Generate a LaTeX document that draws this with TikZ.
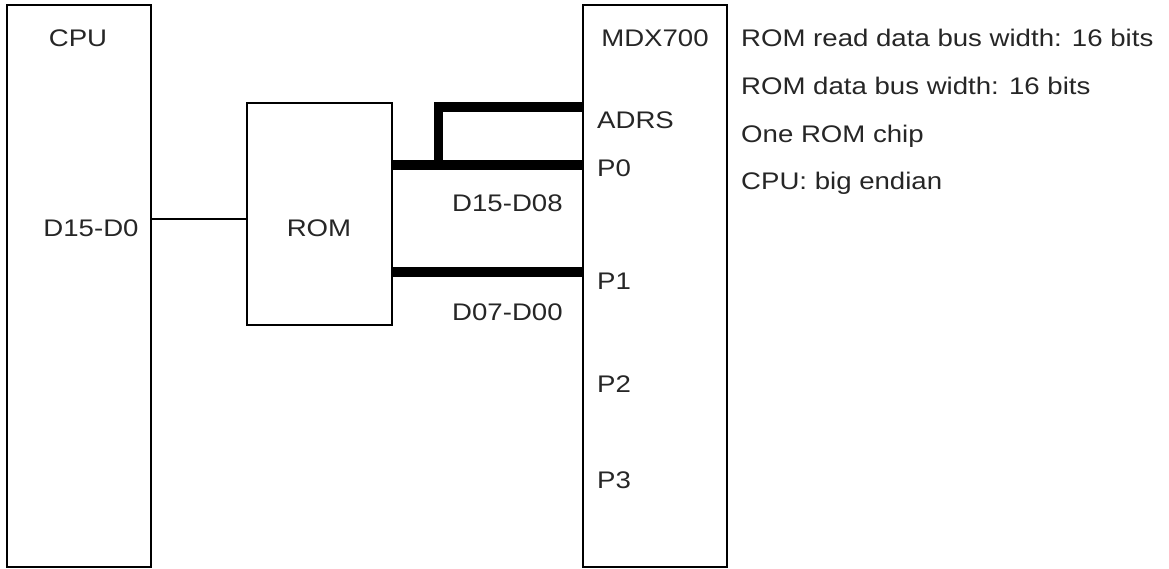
\documentclass[tikz,border=0pt]{standalone}
\usepackage{fontspec}
\setmainfont{Liberation Sans}[FakeStretch=1.15]
\begin{document}
\begin{tikzpicture}[x=1pt,y=-1pt,
  box/.style={draw,line width=2pt,outer sep=0pt,inner sep=0pt},
  lbl/.style={anchor=base,inner sep=0pt,text=black!85,font=\fontsize{24}{28}\selectfont},
  lblw/.style={lbl,anchor=base west},
  wire/.style={line width=2pt},
  bus/.style={line width=9.5pt,line join=miter}]
\useasboundingbox (0,0) rectangle (1169,569);
% boxes
\node[box,minimum width=144pt,minimum height=562pt] (cpu) at (79,286) {};
\node[box,minimum width=145pt,minimum height=222pt] (rom) at (319.5,214) {};
\node[box,minimum width=144pt,minimum height=562pt] (mdx) at (655,286) {};
% pin coordinates
\coordinate (pa) at (mdx.west |- 0,107);
\coordinate (p0) at (mdx.west |- 0,165);
\coordinate (p1) at (mdx.west |- 0,272);
\coordinate (romin) at (rom.west |- 0,219);
\coordinate (tap) at (438.5,165);
% connectors
\draw[wire] (cpu.east |- romin) -- (romin);
\draw[bus] (rom.east |- p0) -- (p0);
\draw[bus] (rom.east |- p1) -- (p1);
\draw[bus] (tap) |- (pa);
% labels
\node[lbl] (tcpu) at (78,47) {CPU};
\node[lbl] (tmdx) at (655,47) {MDX700};
\node[lbl] (tdata) at (91,237) {D15-D0};
\node[lbl] (trom) at (319,237) {ROM};
\node[lblw] (tadrs) at (597,129) {ADRS};
\node[lblw] (tp0) at (597,177) {P0};
\node[lblw] (tp1) at (597,289) {P1};
\node[lblw] (tp2) at (597,392) {P2};
\node[lblw] (tp3) at (597,488) {P3};
\node[lblw] (thi) at (452,212) {D15-D08};
\node[lblw] (tlo) at (452,320) {D07-D00};
\node[lblw] (n1) at (741,47) {ROM read data bus width: 16 bits};
\node[lblw] (n2) at (741,95) {ROM data bus width: 16 bits};
\node[lblw] (n3) at (741,143) {One ROM chip};
\node[lblw] (n4) at (741,190) {CPU: big endian};
\end{tikzpicture}
\end{document}
